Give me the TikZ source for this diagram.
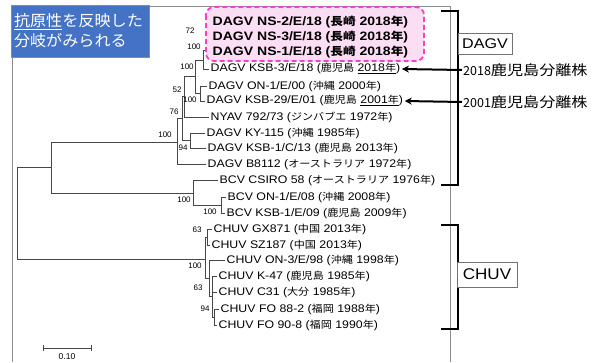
\documentclass[tikz,border=0pt]{standalone}
\usepackage{fontspec}
\setmainfont{Liberation Sans}
\newfontfamily\cjk[Scale=0.9]{Noto Sans CJK JP}
\newfontfamily\cjkb{Noto Sans CJK JP}
\usetikzlibrary{arrows.meta}
\newcommand\J[1]{{\cjk #1}}
\newcommand\hs[2]{\scalebox{#1}[1]{#2}}
\newcommand\ulx[1]{\vtop{\hbox{#1}\kern0.5pt\hrule height 1.2pt}}
\tikzset{
  br/.style={draw=black!72, line width=0.9pt},
  leaf/.style={anchor=west, inner sep=1.5pt, font=\fontsize{11}{12}\selectfont},
  bleaf/.style={anchor=west, inner sep=1.5pt, font=\fontsize{12.2}{13}\selectfont\bfseries},
  bs/.style={inner sep=0pt, font=\fontsize{8}{9}\selectfont},
  bracket/.style={draw=black, line width=2pt},
  arr/.style={draw=black, line width=2pt, -{Stealth[length=7pt,width=7pt]}},
  clbox/.style={draw=black!55, line width=0.8pt, inner sep=0pt},
  framel/.style={draw=black!45, line width=0.8pt},
  hlbox/.style={draw={rgb,255:red,255;green,60;blue,200}, fill={rgb,255:red,252;green,222;blue,244}, line width=1.8pt, dash pattern=on 5pt off 3pt, rounded corners=8pt},
  note/.style={anchor=west, inner sep=1pt, font=\cjkb\fontsize{14}{16}\selectfont},
}
\begin{document}
\begin{tikzpicture}[x=1pt,y=-1pt]
\useasboundingbox (0,0) rectangle (597,362);
% frame
\draw[framel] (12,57) -- (12,362);
\draw[framel] (149,6) -- (450,6) -- (450,362);
% blue box
\node[draw=black!45, fill={rgb,255:red,68;green,114;blue,196}, line width=0.6pt, minimum width=138pt, minimum height=52pt, text width=132pt, align=left, inner xsep=3pt, text=white, font=\cjkb\fontsize{15.5}{20}\selectfont] (blue) at (80,31)
 {\hs{1.04}{\underline{抗原性}を反映した}\\\hs{1.04}{分岐がみられる}};
% leaf labels
\node[leaf] (L4) at (209,69) {\hs{1.12}{DAGV KSB-3/E/18 (\J{鹿児島} \ulx{2018\J{年}})}};
\node[leaf] (L5) at (207,86) {\hs{1.12}{DAGV ON-1/E/00 (\J{沖縄} 2000\J{年})}};
\node[leaf] (L6) at (205,101) {\hs{1.12}{DAGV KSB-29/E/01 (\J{鹿児島} \ulx{2001\J{年}})}};
\node[leaf] (L7) at (209,117) {\hs{1.12}{NYAV 792/73 (\J{ジンバブエ} 1972\J{年})}};
\node[leaf] (L8) at (205,133) {\hs{1.12}{DAGV KY-115 (\J{沖縄} 1985\J{年})}};
\node[leaf] (L9) at (206,148) {\hs{1.12}{DAGV KSB-1/C/13 (\J{鹿児島} 2013\J{年})}};
\node[leaf] (L10) at (206,164) {\hs{1.12}{DAGV B8112 (\J{オーストラリア} 1972\J{年})}};
\node[leaf] (L11) at (218,180) {\hs{1.12}{BCV CSIRO 58 (\J{オーストラリア} 1976\J{年})}};
\node[leaf] (L12) at (226,197) {\hs{1.12}{BCV ON-1/E/08 (\J{沖縄} 2008\J{年})}};
\node[leaf] (L13) at (225,213) {\hs{1.12}{BCV KSB-1/E/09 (\J{鹿児島} 2009\J{年})}};
\node[leaf] (L14) at (212,229) {\hs{1.12}{CHUV GX871 (\J{中国} 2013\J{年})}};
\node[leaf] (L15) at (210,245) {\hs{1.12}{CHUV SZ187 (\J{中国} 2013\J{年})}};
\node[leaf] (L16) at (225,260) {\hs{1.12}{CHUV ON-3/E/98 (\J{沖縄} 1998\J{年})}};
\node[leaf] (L17) at (217,276) {\hs{1.12}{CHUV K-47 (\J{鹿児島} 1985\J{年})}};
\node[leaf] (L18) at (217,292) {\hs{1.12}{CHUV C31 (\J{大分} 1985\J{年})}};
\node[leaf] (L19) at (219,309) {\hs{1.12}{CHUV FO 88-2 (\J{福岡} 1988\J{年})}};
\node[leaf] (L20) at (217,325) {\hs{1.12}{CHUV FO 90-8 (\J{福岡} 1990\J{年})}};
% hidden leaves under the highlight box
\coordinate (L1) at (211,22);
\coordinate (L2) at (211,37);
\coordinate (L3) at (211,52);
% internal nodes
\coordinate (n72) at (208,29.5);
\coordinate (nA) at (206,50);
\coordinate (nB) at (203,60);
\coordinate (nON) at (200,93.5);
\coordinate (nC) at (195,76);
\coordinate (n52) at (184,96);
\coordinate (n94) at (190,140.5);
\coordinate (n76) at (182,118);
\coordinate (nD) at (177,142);
\coordinate (nb2) at (221,205);
\coordinate (nb) at (193,193);
\coordinate (ntop) at (51,167);
\coordinate (c63a) at (207,237);
\coordinate (c94) at (214,317);
\coordinate (c63b) at (212,296);
\coordinate (cx) at (209,278);
\coordinate (cn) at (205,259);
\coordinate (root) at (17,213);
% branches
\draw[br] (n72) |- (L1); \draw[br] (n72) |- (L2);
\draw[br] (nA) |- (n72); \draw[br] (nA) |- (L3);
\draw[br] (nB) |- (nA); \draw[br] (nB) |- (L4.west);
\draw[br] (nON) |- (L5.west); \draw[br] (nON) |- (L6.west);
\draw[br] (nC) |- (nB); \draw[br] (nC) |- (nON);
\draw[br] (n52) |- (nC); \draw[br] (n52) |- (L7.west);
\draw[br] (n94) |- (L8.west); \draw[br] (n94) |- (L9.west);
\draw[br] (n76) |- (n52); \draw[br] (n76) |- (n94);
\draw[br] (nD) |- (n76); \draw[br] (nD) |- (L10.west);
\draw[br] (nb2) |- (L12.west); \draw[br] (nb2) |- (L13.west);
\draw[br] (nb) |- (L11.west); \draw[br] (nb) |- (nb2);
\draw[br] (ntop) |- (nD); \draw[br] (ntop) |- (nb);
\draw[br] (c63a) |- (L14.west); \draw[br] (c63a) |- (L15.west);
\draw[br] (c94) |- (L19.west); \draw[br] (c94) |- (L20.west);
\draw[br] (c63b) |- (L17.west); \draw[br] (c63b) |- (L18.west); \draw[br] (c63b) |- (c94);
\draw[br] (cx) |- (L16.west); \draw[br] (cx) |- (c63b);
\draw[br] (cn) |- (c63a); \draw[br] (cn) |- (cx);
\draw[br] (root) |- (ntop); \draw[br] (root) |- (cn);
% bootstrap values
\node[bs] (b1) at (190,31) {72};
\node[bs] (b2) at (194,47) {100};
\node[bs] (b3) at (187,67) {100};
\node[bs] (b4) at (190,100) {100};
\node[bs] (b5) at (177,90) {52};
\node[bs] (b6) at (174,112) {76};
\node[bs] (b7) at (165,135) {100};
\node[bs] (b8) at (183,148) {94};
\node[bs] (b9) at (184,200) {100};
\node[bs] (b10) at (210,212) {100};
\node[bs] (b11) at (197,230) {63};
\node[bs] (b12) at (195,266) {100};
\node[bs] (b13) at (198,288) {63};
\node[bs] (b14) at (205,309) {94};
% highlight box and bold leaves
\draw[hlbox] (206,7) rectangle (424,61);
\node[bleaf] (T1) at (211,22) {\hs{1.15}{DAGV NS-2/E/18 (\J{長崎} 2018\J{年})}};
\node[bleaf] (T2) at (211,37) {\hs{1.15}{DAGV NS-3/E/18 (\J{長崎} 2018\J{年})}};
\node[bleaf] (T3) at (211,52) {\hs{1.15}{DAGV NS-1/E/18 (\J{長崎} 2018\J{年})}};
% brackets
\draw[bracket] (441,11) -- (458,11) -- (458,185) -- (441,185);
\draw[bracket] (441,225) -- (458,225) -- (458,329) -- (441,329);
\node[clbox, minimum width=54pt, minimum height=21pt, fill=white, font=\fontsize{14}{16}\selectfont] (dagv) at (485,43.5) {\hs{1.15}{DAGV}};
\node[clbox, minimum width=60pt, minimum height=25pt, fill=white, font=\fontsize{15.5}{17}\selectfont] (chuv) at (487,274.5) {\hs{1.1}{CHUV}};
% isolate notes
\node[note] (n2018) at (462,70) {{\fontsize{12.5}{14}\selectfont 2018}\hs{1.15}{鹿児島分離株}};
\node[note] (n2001) at (462,102) {{\fontsize{12.5}{14}\selectfont 2001}\hs{1.15}{鹿児島分離株}};
\draw[arr] (n2018.west) -- (L4.east);
\draw[arr] (n2001.west) -- (L6.east);
% scale bar
\coordinate (s1) at (43,348);
\coordinate (s2) at (91,348);
\draw[br] (s1) -- (s2);
\draw[br] ([yshift=-3pt]s1) -- ([yshift=3pt]s1);
\draw[br] ([yshift=-3pt]s2) -- ([yshift=3pt]s2);
\node[bs, font=\fontsize{8.5}{10}\selectfont] (sl) at (67,357) {0.10};
\end{tikzpicture}
\end{document}
